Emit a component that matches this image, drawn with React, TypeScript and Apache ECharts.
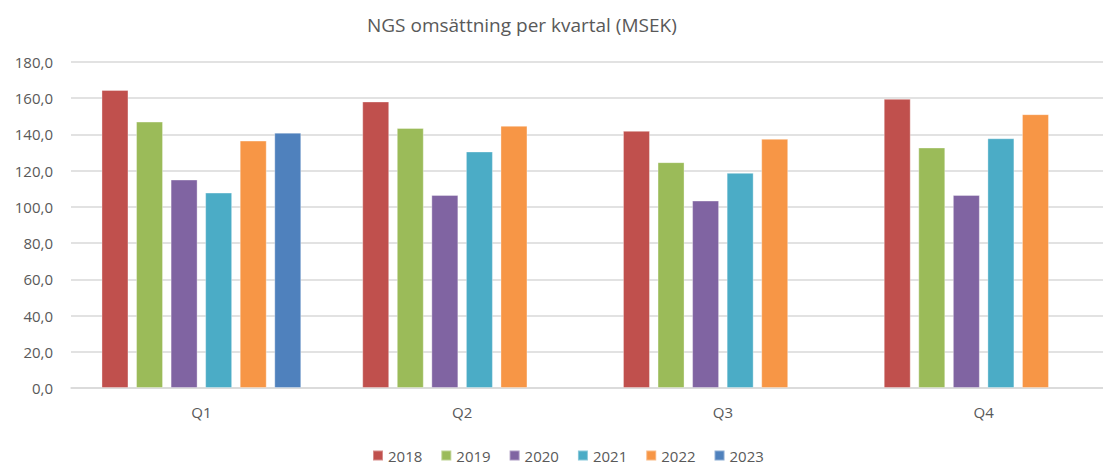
import React, { useEffect, useRef } from "react";
import * as echarts from "echarts";

const categories = ["Q1", "Q2", "Q3", "Q4"];
const years = ["2018", "2019", "2020", "2021", "2022", "2023"];
const v2018 = [164.6, 158.2, 142.0, 159.7];
const v2019 = [147.1, 143.6, 124.7, 132.8];
const v2020 = [115.1, 106.6, 103.5, 106.6];
const v2021 = [107.9, 130.6, 118.8, 137.9];
const v2022 = [136.6, 144.8, 137.6, 151.2];
const v2023 = [141.0, null, null, null];
const colors = ["#C0504D", "#9BBB59", "#8064A2", "#4BACC6", "#F79646", "#4F81BD"];

const FONT = "'Open Sans', 'Noto Sans', sans-serif";

export default function App() {
  const ref = useRef<HTMLDivElement>(null);
  useEffect(() => {
    if (!ref.current) return;
    const chart = echarts.init(ref.current, null, { renderer: "svg" });
    const all = [v2018, v2019, v2020, v2021, v2022, v2023];
    chart.setOption({
      animation: false,
      backgroundColor: "#ffffff",
      title: {
        text: "NGS omsättning per kvartal (MSEK)",
        left: 362,
        top: 10,
        textStyle: { color: "#595959", fontSize: 19, fontWeight: "normal", fontFamily: FONT },
      },
      legend: {
        data: years,
        left: 367,
        top: 443,
        itemWidth: 10,
        itemHeight: 10,
        itemGap: 18,
        icon: "rect",
        textStyle: { color: "#595959", fontSize: 15, fontFamily: FONT },
      },
      grid: { left: 71, top: 62, width: 1043, height: 326, containLabel: false },
      xAxis: {
        type: "category",
        data: categories,
        axisLine: { lineStyle: { color: "#d9d9d9", width: 1.5 } },
        axisTick: { show: false },
        axisLabel: { color: "#595959", fontSize: 15, margin: 16, fontFamily: FONT },
      },
      yAxis: {
        type: "value",
        min: 0,
        max: 180,
        interval: 20,
        axisLine: { show: false },
        axisTick: { show: false },
        splitLine: { lineStyle: { color: "#d9d9d9", width: 1.5 } },
        axisLabel: {
          color: "#595959",
          fontSize: 15,
          margin: 18,
          fontFamily: FONT,
          formatter: (v: number) => v.toFixed(1).replace(".", ","),
        },
      },
      series: years.map((y, i) => ({
        name: y,
        type: "bar",
        data: all[i],
        barWidth: 27,
        barGap: "28%",
        itemStyle: { color: colors[i], borderColor: "rgba(255,255,255,0.35)", borderWidth: 1 },
      })),
    });
    return () => chart.dispose();
  }, []);
  return (
    <div style={{ position: "fixed", left: 0, top: 0, width: 1103, height: 465, overflow: "hidden" }}>
      <div ref={ref} style={{ width: 1114, height: 465 }} />
    </div>
  );
}
